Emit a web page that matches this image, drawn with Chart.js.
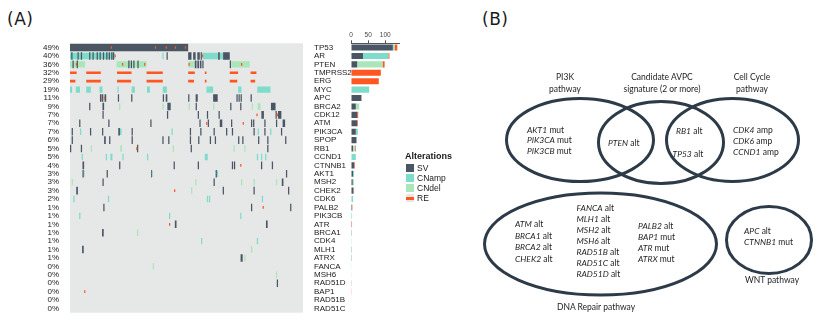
<!DOCTYPE html>
<html>
<head>
<meta charset="utf-8">
<script src="https://cdn.jsdelivr.net/npm/chart.js@4.4.1/dist/chart.umd.min.js"></script>
<style>
  html, body { margin: 0; padding: 0; background: #fff; }
  #wrap { position: relative; width: 832px; height: 324px; overflow: hidden; font-family: "Liberation Sans", Arial, sans-serif; color: #1a1a1a; }
  canvas { position: absolute; }
  .panel { position: absolute; font: 17px "DejaVu Sans", sans-serif; letter-spacing: 0.5px; }
  #legend { position: absolute; left: 405px; top: 151px; font-size: 8.5px; }
  #legend .title { font-weight: bold; font-size: 9px; margin-bottom: 2px; }
  #legend .row { position: relative; height: 10px; line-height: 10px; padding-left: 12px; }
  #legend .sw { position: absolute; left: 1px; top: 1px; width: 8px; height: 8px; }
  .vt { position: absolute; font: 8.5px Lato, sans-serif; color: #1e1e1e; white-space: nowrap; }
  .vt i { font-style: italic; }
  .c { text-align: center; }
</style>
</head>
<body>
<div id="wrap">
  <div class="panel" style="left:7px;top:9px">(A)</div>
  <div class="panel" style="left:482px;top:9px">(B)</div>

  <canvas id="onco" width="352" height="324" style="left:0;top:0"></canvas>
  <canvas id="counts" width="66" height="324" style="left:346px;top:0"></canvas>

  <div id="legend">
    <div class="title">Alterations</div>
    <div class="row"><span class="sw" style="background:#4a5664"></span>SV</div>
    <div class="row"><span class="sw" style="background:#7fdcca"></span>CNamp</div>
    <div class="row"><span class="sw" style="background:#a9e6b9"></span>CNdel</div>
    <div class="row"><span class="sw" style="background:#e6e7e7"><span style="position:absolute;left:0;top:3px;width:8px;height:2.5px;background:#ff5722"></span></span>RE</div>
  </div>

  <canvas id="venn" width="352" height="284" style="left:480px;top:40px"></canvas>

  <div class="vt c" style="left:515px;top:70.5px;width:100px;line-height:12.3px">PI3K<br>pathway</div>
  <div class="vt c" style="left:602px;top:70.5px;width:120px;line-height:12.3px">Candidate AVPC<br>signature (2 or more)</div>
  <div class="vt c" style="left:702px;top:70.5px;width:100px;line-height:12.3px">Cell Cycle<br>pathway</div>

  <div class="vt" style="left:527px;top:124.5px;line-height:10.9px"><i>AKT1</i> mut<br><i>PIK3CA</i> mut<br><i>PIK3CB</i> mut</div>
  <div class="vt" style="left:608px;top:138px;line-height:10.8px"><i>PTEN</i> alt</div>
  <div class="vt" style="left:676px;top:126.3px;line-height:10.8px"><i>RB1</i> alt</div>
  <div class="vt" style="left:672.5px;top:149px;line-height:10.8px"><i>TP53</i> alt</div>
  <div class="vt" style="left:733px;top:124.5px;line-height:11px"><i>CDK4</i> amp<br><i>CDK6</i> amp<br><i>CCND1</i> amp</div>

  <div class="vt" style="left:515px;top:219.3px;line-height:11.4px"><i>ATM</i> alt<br><i>BRCA1</i> alt<br><i>BRCA2</i> alt<br><i>CHEK2</i> alt</div>
  <div class="vt" style="left:576.5px;top:202.7px;line-height:11.1px"><i>FANCA</i> alt<br><i>MLH1</i> alt<br><i>MSH2</i> alt<br><i>MSH6</i> alt<br><i>RAD51B</i> alt<br><i>RAD51C</i> alt<br><i>RAD51D</i> alt</div>
  <div class="vt" style="left:638px;top:220.5px;line-height:11px"><i>PALB2</i> alt<br><i>BAP1</i> mut<br><i>ATR</i> mut<br><i>ATRX</i> mut</div>
  <div class="vt c" style="left:546px;top:302px;width:100px;line-height:11px">DNA Repair pathway</div>

  <div class="vt" style="left:744px;top:226.2px;line-height:11px"><i>APC</i> alt<br><i>CTNNB1</i> mut</div>
  <div class="vt c" style="left:722px;top:274.5px;width:100px;line-height:11px">WNT pathway</div>
</div>

<script>
// genes, top to bottom
const genes = ['TP53', 'AR', 'PTEN', 'TMPRSS2', 'ERG', 'MYC', 'APC', 'BRCA2', 'CDK12', 'ATM',
    'PIK3CA', 'SPOP', 'RB1', 'CCND1', 'CTNNB1', 'AKT1', 'MSH2', 'CHEK2', 'CDK6', 'PALB2',
    'PIK3CB', 'ATR', 'BRCA1', 'CDK4', 'MLH1', 'ATRX', 'FANCA', 'MSH6', 'RAD51D', 'BAP1',
    'RAD51B', 'RAD51C'];
const pctLabels = ['49%', '40%', '36%', '32%', '29%', '19%', '11%', '9%', '7%', '7%',
    '7%', '6%', '5%', '5%', '4%', '3%', '3%', '3%', '2%', '1%',
    '1%', '1%', '1%', '1%', '1%', '1%', '0%', '0%', '0%', '0%',
    '0%', '0%'];
const nSamples = 280;

// oncoprint cells: [gene, first sample, last sample]
const svCells = [
    ['TP53', 0, 142],
    ['AR', 1.5, 3], ['AR', 9, 10.5], ['AR', 13, 14.5], ['AR', 23, 24.5], ['AR', 27, 28.5], ['AR', 32, 33.5],
    ['AR', 35.5, 37], ['AR', 39.5, 41], ['AR', 43.5, 45], ['AR', 46.5, 48], ['AR', 49.5, 51], ['AR', 51.5, 53],
    ['AR', 116, 117.5], ['AR', 142, 146], ['AR', 148, 151], ['AR', 153, 156], ['AR', 157, 158.5],
    ['AR', 178, 180], ['AR', 184, 192],
    ['PTEN', 3, 4.5], ['PTEN', 8, 9.5], ['PTEN', 70, 71.5], ['PTEN', 73, 74.5], ['PTEN', 76, 77.5],
    ['PTEN', 81, 82.5], ['PTEN', 150, 152], ['PTEN', 153, 155], ['PTEN', 156, 158], ['PTEN', 159, 160.5],
    ['PTEN', 192, 193.5],
    ['APC', 36, 38], ['APC', 38.5, 40], ['APC', 41.5, 43.5], ['APC', 57.5, 59], ['APC', 73.5, 75],
    ['APC', 111.5, 113], ['APC', 115, 117], ['APC', 142, 143.5], ['APC', 151, 153.5], ['APC', 172, 177.5],
    ['APC', 200, 201.5], ['APC', 202.5, 204], ['APC', 205, 206.5], ['APC', 217, 218.5],
    ['BRCA2', 23, 24.5], ['BRCA2', 39, 41], ['BRCA2', 117, 121], ['BRCA2', 151, 152.5],
    ['BRCA2', 192.5, 194], ['BRCA2', 204.5, 206], ['BRCA2', 241.5, 247],
    ['CDK12', 39, 40.5], ['CDK12', 116.5, 118], ['CDK12', 153.5, 155], ['CDK12', 164.5, 166],
    ['CDK12', 178.5, 180], ['CDK12', 230, 233], ['CDK12', 247, 248.5], ['CDK12', 250, 254],
    ['ATM', 11, 12.5], ['ATM', 46, 47.5], ['ATM', 96.5, 98], ['ATM', 155.5, 157], ['ATM', 165.5, 167],
    ['ATM', 180, 183], ['ATM', 193.5, 195], ['ATM', 217.5, 219], ['ATM', 220, 221.5], ['ATM', 233.5, 235],
    ['ATM', 247.5, 249], ['ATM', 255.5, 258.5],
    ['PIK3CA', 2, 3.5], ['PIK3CA', 24, 25.5], ['PIK3CA', 38.5, 40], ['PIK3CA', 58, 60], ['PIK3CA', 74, 75.5],
    ['PIK3CA', 144, 145.5], ['PIK3CA', 156.5, 158], ['PIK3CA', 172.5, 174], ['PIK3CA', 187.5, 189],
    ['PIK3CA', 194.5, 196], ['PIK3CA', 220.5, 222], ['PIK3CA', 233.5, 235], ['PIK3CA', 253.5, 255],
    ['SPOP', 2, 3.5], ['SPOP', 41, 43], ['SPOP', 47, 48.5], ['SPOP', 74, 75.5], ['SPOP', 111, 112.5],
    ['SPOP', 118, 119.5], ['SPOP', 144, 145.5], ['SPOP', 154, 155.5], ['SPOP', 168, 169.5],
    ['SPOP', 174, 175.5], ['SPOP', 202, 203.5], ['SPOP', 207, 208.5], ['SPOP', 226, 227.5],
    ['SPOP', 237, 238.5], ['SPOP', 258.5, 260],
    ['RB1', 0, 1.5], ['RB1', 13, 14.5], ['RB1', 80.5, 82], ['RB1', 145, 146.5], ['RB1', 237, 238.5],
    ['CTNNB1', 15, 17], ['CTNNB1', 59, 60.5], ['CTNNB1', 124.5, 126], ['CTNNB1', 153.5, 155],
    ['CTNNB1', 194.5, 196], ['CTNNB1', 197, 198.5], ['CTNNB1', 229.5, 231], ['CTNNB1', 242.5, 244],
    ['AKT1', 15, 16.5], ['AKT1', 44, 45.5], ['AKT1', 97.5, 98.5], ['AKT1', 175, 176.5], ['AKT1', 259.5, 261],
    ['MSH2', 39, 40.5], ['MSH2', 172.5, 174], ['MSH2', 254.5, 256.5],
    ['CHEK2', 7.5, 9.5], ['CHEK2', 183.5, 185], ['CHEK2', 220.5, 222], ['CHEK2', 262, 263.5],
    ['PALB2', 40, 41.5], ['PALB2', 217.5, 219], ['PALB2', 264.5, 266],
    ['ATR', 126, 128], ['ATR', 235.5, 237.5],
    ['BRCA1', 38.5, 40.5],
    ['MLH1', 14.5, 16.5],
    ['ATRX', 205, 207.5],
    ['RAD51D', 248.5, 250]
];
const ampCells = [
    ['AR', 0, 54], ['AR', 111, 112.5], ['AR', 159, 178], ['AR', 180, 184],
    ['MYC', 0, 2.5], ['MYC', 7, 12], ['MYC', 19.5, 25], ['MYC', 35.5, 39], ['MYC', 57, 58.5],
    ['MYC', 74, 78], ['MYC', 92.5, 96], ['MYC', 111.5, 116.5], ['MYC', 164, 172], ['MYC', 202, 206],
    ['MYC', 225, 241],
    ['PIK3CA', 12, 13.5], ['PIK3CA', 60, 62], ['PIK3CA', 122, 123.5], ['PIK3CA', 225.5, 227], ['PIK3CA', 240.5, 242],
    ['CCND1', 14, 15.5], ['CCND1', 43, 44.5], ['CCND1', 48.5, 51], ['CCND1', 63, 64.5], ['CCND1', 92.5, 94],
    ['CCND1', 162, 165.5], ['CCND1', 224.5, 226], ['CCND1', 229.5, 231], ['CCND1', 234.5, 236],
    ['AKT1', 16.5, 17.5], ['AKT1', 98.5, 99.5], ['AKT1', 176.5, 178],
    ['CDK6', 4, 5.5], ['CDK6', 45.5, 47], ['CDK6', 164.5, 166], ['CDK6', 167, 168.5], ['CDK6', 230.5, 232],
    ['PIK3CB', 11, 12.5], ['PIK3CB', 119, 120.5], ['PIK3CB', 204.5, 206],
    ['CDK4', 157.5, 159], ['CDK4', 224.5, 226]
];
const delCells = [
    ['PTEN', 0, 18], ['PTEN', 56, 92], ['PTEN', 142, 150], ['PTEN', 194, 216],
    ['BRCA2', 59, 60.5], ['BRCA2', 111, 112.5], ['BRCA2', 142.5, 144], ['BRCA2', 172, 173.5],
    ['BRCA2', 218.5, 220], ['BRCA2', 225.5, 229],
    ['RB1', 25, 26.5], ['RB1', 60.5, 62.5], ['RB1', 123.5, 125], ['RB1', 196.5, 198], ['RB1', 209.5, 211],
    ['MSH2', 2, 3.5], ['MSH2', 150.5, 152], ['MSH2', 205.5, 207], ['MSH2', 220.5, 222], ['MSH2', 247.5, 249],
    ['CHEK2', 145.5, 147],
    ['BRCA1', 80.5, 82],
    ['MLH1', 217.5, 219],
    ['ATRX', 209.5, 211],
    ['FANCA', 99.5, 101],
    ['MSH6', 247.5, 249]
];
const reCells = [
    ['TP53', 49, 50.5], ['TP53', 102, 103.5], ['TP53', 115, 116.5], ['TP53', 126, 127.5], ['TP53', 138, 139.5],
    ['AR', 53.5, 55], ['AR', 158.5, 160],
    ['PTEN', 7, 8.5], ['PTEN', 62.5, 64], ['PTEN', 89, 90.5], ['PTEN', 142.5, 144], ['PTEN', 205.5, 207],
    ['TMPRSS2', 0, 8], ['TMPRSS2', 19.5, 37], ['TMPRSS2', 56.5, 74], ['TMPRSS2', 92, 111.5],
    ['TMPRSS2', 142, 150], ['TMPRSS2', 162, 164], ['TMPRSS2', 192, 202], ['TMPRSS2', 217, 224],
    ['ERG', 0, 6.5], ['ERG', 19.5, 37], ['ERG', 56.5, 73.5], ['ERG', 92, 111.5],
    ['ERG', 142, 149], ['ERG', 162, 164], ['ERG', 192, 201], ['ERG', 217, 222.5],
    ['APC', 40.5, 42],
    ['CDK12', 224, 225.5], ['CDK12', 248.5, 250],
    ['ATM', 163.5, 165], ['ATM', 207.5, 209],
    ['RB1', 79.5, 81],
    ['CTNNB1', 204.5, 206],
    ['CHEK2', 125, 126.5],
    ['PALB2', 231.5, 233],
    ['ATR', 119, 120.5],
    ['BAP1', 17, 18.5]
];

// number of samples per alteration type (side bar chart)
const countSV  = [122, 35, 18, 0, 0, 0, 30, 14, 18, 18, 14, 16, 6, 0, 9, 6, 5, 7, 0, 3, 0, 2, 1, 0, 1, 1, 0, 0, 1, 0, 0, 0];
const countAmp = [3, 74, 0, 0, 0, 53, 0, 0, 0, 0, 6, 0, 1, 14, 0, 3, 0, 0, 6, 0, 3, 0, 0, 2, 0, 0, 0, 0, 0, 0, 0, 0];
const countDel = [2, 0, 74, 0, 0, 0, 0, 10, 0, 0, 0, 0, 5, 0, 0, 0, 4, 1, 0, 0, 0, 0, 1, 0, 1, 1, 1, 1, 0, 0, 0, 0];
const countRE  = [8, 3, 6, 87, 81, 0, 1, 0, 3, 2, 0, 0, 2, 0, 2, 0, 0, 1, 0, 1, 0, 1, 0, 0, 0, 0, 0, 0, 0, 1, 0, 0];
const countTicks = [0, 50, 100];

// venn diagram sets (diagram units)
const vennSets = ['PI3K', 'AVPC', 'Cell Cycle', 'DNA Repair', 'WNT'];
const vennCx = [100, 181, 252.5, 120.5, 289];
const vennCy = [100, 102.5, 100, 204, 200];
const vennRx = [73.5, 62.5, 66, 116, 42.5];
const vennRy = [41.5, 41, 41.5, 51, 33.5];

const SV_COLOR = '#4a5664';
const AMP_COLOR = '#7fdcca';
const DEL_COLOR = '#a9e6b9';
const RE_COLOR = '#ff5722';
const LABEL_FONT = { family: '"Liberation Sans", Arial, sans-serif', size: 8 };

const toBars = cells => cells.map(c => ({ x: [c[1], c[2]], y: c[0] }));

const gridBackground = {
    id: 'gridBackground',
    beforeDatasetsDraw(chart) {
        const a = chart.chartArea;
        chart.ctx.save();
        chart.ctx.fillStyle = '#e6e7e7';
        chart.ctx.fillRect(a.left, a.top, a.right - a.left, a.bottom - a.top);
        chart.ctx.restore();
    }
};

new Chart(document.getElementById('onco'), {
    type: 'bar',
    data: {
        labels: genes,
        datasets: [
            { label: 'RE', data: toBars(reCells), backgroundColor: RE_COLOR, barPercentage: 0.32, order: 1 },
            { label: 'SV', data: toBars(svCells), backgroundColor: SV_COLOR, barPercentage: 0.9, order: 2 },
            { label: 'CNamp', data: toBars(ampCells), backgroundColor: AMP_COLOR, barPercentage: 0.76, order: 3 },
            { label: 'CNdel', data: toBars(delCells), backgroundColor: DEL_COLOR, barPercentage: 0.76, order: 4 }
        ]
    },
    options: {
        indexAxis: 'y',
        responsive: false,
        animation: false,
        devicePixelRatio: 1,
        layout: { padding: { top: 43.3, bottom: 11.3, left: 0, right: 0 } },
        datasets: { bar: { grouped: false, categoryPercentage: 1, borderWidth: 0 } },
        plugins: { legend: { display: false }, tooltip: { enabled: false } },
        scales: {
            x: { type: 'linear', min: 0, max: nSamples, display: false },
            y: {
                type: 'category', position: 'left', offset: true,
                grid: { display: false }, border: { display: false },
                afterFit(scale) { scale.width = 70; },
                ticks: { autoSkip: false, padding: 3, color: '#1a1a1a', font: LABEL_FONT,
                    callback: (v, i) => pctLabels[i] }
            },
            y2: {
                type: 'category', position: 'right', offset: true,
                grid: { display: false }, border: { display: false },
                afterFit(scale) { scale.width = 49; },
                ticks: { autoSkip: false, padding: 3, color: '#1a1a1a', font: LABEL_FONT }
            }
        }
    },
    plugins: [gridBackground]
});

new Chart(document.getElementById('counts'), {
    type: 'bar',
    data: {
        labels: genes,
        datasets: [
            { label: 'SV', data: countSV, backgroundColor: SV_COLOR },
            { label: 'CNamp', data: countAmp, backgroundColor: AMP_COLOR },
            { label: 'CNdel', data: countDel, backgroundColor: DEL_COLOR },
            { label: 'RE', data: countRE, backgroundColor: RE_COLOR }
        ]
    },
    options: {
        indexAxis: 'y',
        responsive: false,
        animation: false,
        devicePixelRatio: 1,
        layout: { padding: { top: 0, bottom: 11.3, left: 5, right: 13 } },
        datasets: { bar: { barPercentage: 0.72, categoryPercentage: 1, borderWidth: 0 } },
        plugins: { legend: { display: false }, tooltip: { enabled: false } },
        scales: {
            x: {
                position: 'top', stacked: true, min: 0, max: 140,
                afterFit(scale) { scale.height = 43.3; },
                afterBuildTicks(scale) { scale.ticks = countTicks.map(v => ({ value: v })); },
                grid: { drawOnChartArea: false, tickLength: 3, color: '#555' },
                border: { color: '#555' },
                ticks: { padding: 1, maxRotation: 0, color: '#444',
                    font: { family: '"Liberation Sans", Arial, sans-serif', size: 6.5 } }
            },
            y: { stacked: true, display: false, offset: true }
        }
    }
});

const ellipses = {
    id: 'ellipses',
    afterDatasetsDraw(chart) {
        const { x, y } = chart.scales;
        const ctx = chart.ctx;
        ctx.save();
        ctx.lineWidth = 3;
        ctx.strokeStyle = '#2d3a47';
        vennSets.forEach((name, i) => {
            const px = x.getPixelForValue(vennCx[i]);
            const py = y.getPixelForValue(vennCy[i]);
            const rx = Math.abs(x.getPixelForValue(vennCx[i] + vennRx[i]) - px);
            const ry = Math.abs(y.getPixelForValue(vennCy[i] + vennRy[i]) - py);
            ctx.beginPath();
            ctx.ellipse(px, py, rx, ry, 0, 0, Math.PI * 2);
            ctx.stroke();
        });
        ctx.restore();
    }
};

new Chart(document.getElementById('venn'), {
    type: 'scatter',
    data: { datasets: [{ data: [] }] },
    options: {
        responsive: false,
        animation: false,
        devicePixelRatio: 1,
        layout: { padding: 0 },
        plugins: { legend: { display: false }, tooltip: { enabled: false } },
        scales: {
            x: { display: false, min: 0, max: 352 },
            y: { display: false, min: 0, max: 284, reverse: true }
        }
    },
    plugins: [ellipses]
});
</script>
</body>
</html>
